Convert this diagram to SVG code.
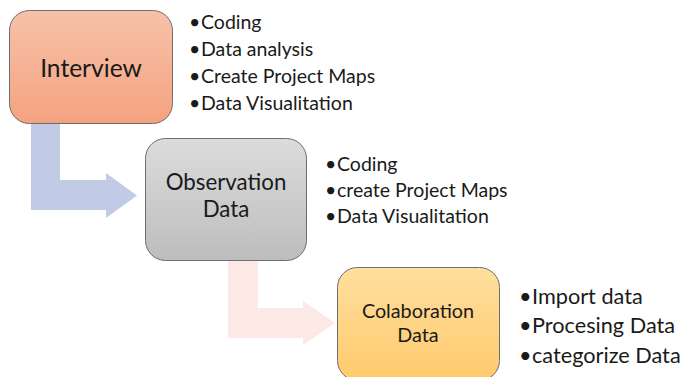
<svg xmlns="http://www.w3.org/2000/svg" width="683" height="377" viewBox="0 0 683 377">
  <defs>
    <linearGradient id="gOrange" x1="0" y1="0" x2="0" y2="1">
      <stop offset="0" stop-color="#f7c2aa"/>
      <stop offset="1" stop-color="#f4a27f"/>
    </linearGradient>
    <linearGradient id="gGrey" x1="0" y1="0" x2="0" y2="1">
      <stop offset="0" stop-color="#dcdcdc"/>
      <stop offset="1" stop-color="#bdbdbd"/>
    </linearGradient>
    <linearGradient id="gYellow" x1="0" y1="0" x2="0" y2="1">
      <stop offset="0" stop-color="#ffdf9f"/>
      <stop offset="1" stop-color="#ffca6c"/>
    </linearGradient>
  </defs>
  <style>
    text { font-family: Lato, "Liberation Sans", sans-serif; fill: #1a1a1a; }
    .box { stroke: #6e6e6e; stroke-width: 1; }
    .title { text-anchor: middle; }
    .b1 { font-size: 19.5px; }
    .b3 { font-size: 21.7px; }
  </style>

  <!-- connectors -->
  <g id="connectors">
    <path d="M31,124 L60,124 L60,180 L106,180 L106,173 L137,195.5 L106,218 L106,210 L31,210 Z" fill="#c1cbe6"/>
    <path d="M228,260 L258,260 L258,308 L303,308 L303,301 L335,323 L303,345 L303,338 L228,338 Z" fill="#fce8e4"/>
  </g>

  <!-- Interview -->
  <g id="interview">
    <rect class="box" x="9.5" y="10.5" width="163" height="113" rx="20" fill="url(#gOrange)"/>
    <text class="title" x="91" y="77" font-size="24.6">Interview</text>
    <text class="b1" x="189" y="29">•<tspan x="201">Coding</tspan></text>
    <text class="b1" x="189" y="56">•<tspan x="201">Data analysis</tspan></text>
    <text class="b1" x="189" y="83">•<tspan x="201">Create Project Maps</tspan></text>
    <text class="b1" x="189" y="110">•<tspan x="201">Data Visualitation</tspan></text>
  </g>

  <!-- Observation Data -->
  <g id="observation">
    <rect class="box" x="145.5" y="138.5" width="161" height="122" rx="20" fill="url(#gGrey)"/>
    <text class="title" x="226" y="190" font-size="22.3">Observation</text>
    <text class="title" x="226" y="217" font-size="22.3">Data</text>
    <text class="b1" x="325" y="171">•<tspan x="337">Coding</tspan></text>
    <text class="b1" x="325" y="197">•<tspan x="337">create Project Maps</tspan></text>
    <text class="b1" x="325" y="223">•<tspan x="337">Data Visualitation</tspan></text>
  </g>

  <!-- Colaboration Data -->
  <g id="colaboration">
    <rect class="box" x="337.5" y="267.5" width="162" height="113" rx="20" fill="url(#gYellow)"/>
    <text class="title" x="418" y="318" font-size="19.8">Colaboration</text>
    <text class="title" x="418" y="342" font-size="19.8">Data</text>
    <text class="b3" x="519" y="304">•<tspan x="532">Import data</tspan></text>
    <text class="b3" x="519" y="333">•<tspan x="532">Procesing Data</tspan></text>
    <text class="b3" x="519" y="363">•<tspan x="532">categorize Data</tspan></text>
  </g>
</svg>
